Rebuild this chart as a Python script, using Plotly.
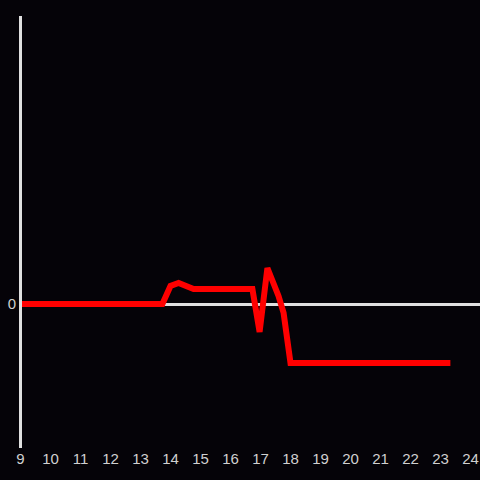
import plotly.graph_objects as go

x_vals = [9, 13.73, 14.0, 14.27, 14.77, 16.73, 16.97, 17.23, 17.6, 17.77, 18.0, 23.33]
y_vals = [0, 0, 18, 21, 15, 15, -28, 36, 8, -9, -59, -59]
x_ticks = list(range(9, 25))

fig = go.Figure()
fig.add_trace(go.Scatter(x=x_vals, y=y_vals, mode="lines",
                         line=dict(color="#ff0000", width=6), hoverinfo="skip"))
fig.add_shape(type="line", xref="paper", yref="paper", x0=0.0011, x1=0.0011, y0=0, y1=1,
              line=dict(color="#e0e0e0", width=3), layer="above")
fig.update_layout(
    width=480, height=480,
    margin=dict(l=20, r=0, t=16, b=32),
    paper_bgcolor="#050308", plot_bgcolor="#050308",
    showlegend=False,
    font=dict(family="Liberation Sans, Arial, sans-serif", size=15, color="#d0d0d0"),
    xaxis=dict(range=[8.983, 24.317], tickvals=x_ticks, showgrid=False, zeroline=False,
               showline=False, ticks="", tickfont=dict(size=15, color="#d0d0d0")),
    yaxis=dict(range=[-144, 288], tickvals=[0], showgrid=False, zeroline=True,
               zerolinecolor="#e0e0e0", zerolinewidth=3,
               showline=False, ticks="", ticklabelstandoff=3,
               tickfont=dict(size=15, color="#d0d0d0")),
)
fig.write_html("out.html", config={"displayModeBar": False},
               post_script="document.body.style.margin='0';document.body.style.overflow='hidden';")
